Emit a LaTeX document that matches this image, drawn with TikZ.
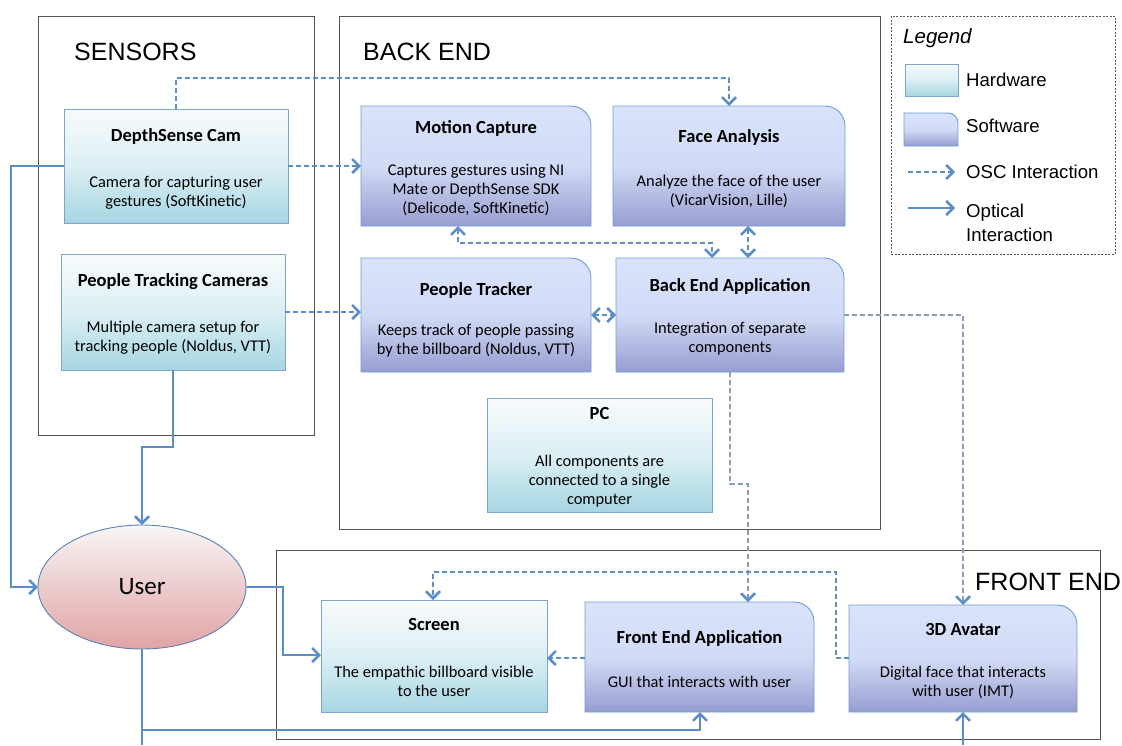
\documentclass[tikz,border=0pt]{standalone}
\usepackage{fontspec}
\setmainfont{Carlito}
\newfontfamily\arialf{Liberation Sans}
\usetikzlibrary{arrows.meta,shapes.geometric}
\definecolor{hwtop}{HTML}{F8FBFC}
\definecolor{hwmid}{HTML}{DCEFF4}
\definecolor{hwbot}{HTML}{A6D6E2}
\definecolor{hwline}{HTML}{7FA6C9}
\definecolor{swtop}{HTML}{D9E3FB}
\definecolor{swmid}{HTML}{D2DBF6}
\definecolor{swbot}{HTML}{979DD0}
\definecolor{swline}{HTML}{6E9DD1}
\definecolor{usertop}{HTML}{F9F6F6}
\definecolor{userbot}{HTML}{E1A3A4}
\definecolor{userline}{HTML}{5B83B3}
\definecolor{conn}{HTML}{5B8EC8}
\definecolor{conngray}{HTML}{8A9DB3}
\definecolor{framec}{HTML}{555555}
\tikzset{
  hwstyle/.style={draw=hwline, line width=0.9pt, top color=hwtop, bottom color=hwbot, middle color=hwmid, inner sep=0pt, outer sep=0pt},
  swshade/.style={draw=swline, line width=0.9pt, top color=swtop, bottom color=swbot, middle color=swmid},
  swnode/.style={inner sep=0pt, outer sep=0pt},
  ttlstyle/.style={font=\fontsize{18.5}{21}\selectfont\bfseries, inner sep=0pt},
  bdystyle/.style={font=\fontsize{16.4}{19}\selectfont, inner sep=0pt, align=center},
  framebox/.style={draw=framec, line width=0.9pt},
  seclabel/.style={font=\arialf\fontsize{25}{28}\selectfont, inner sep=0pt, anchor=west},
  lgtext/.style={font=\arialf\fontsize{18.6}{24}\selectfont, inner sep=0pt, anchor=west, align=left},
  osc/.style={draw=conn, line width=1.3pt, dash pattern=on 5pt off 3pt},
  oscg/.style={draw=conngray, line width=1.3pt, dash pattern=on 5pt off 3pt},
  optic/.style={draw=conn, line width=1.3pt},
  >={Straight Barb[length=7pt,width=14pt,line width=2.5pt]},
  bluetip/.style={-{Straight Barb[length=7pt,width=14pt,line width=2.5pt,color=conn]}}
}
\newcommand\hwbox[5]{%
  \pgfmathsetmacro\bw{#4-#2}\pgfmathsetmacro\bh{#5-#3}%
  \node[hwstyle, minimum width=\bw pt, minimum height=\bh pt] (#1) at ({(#2+#4)/2},{(#3+#5)/2}) {};}
\newcommand\swbox[6]{%
  \pgfmathsetmacro\bw{#4-#2}\pgfmathsetmacro\bh{#5-#3}%
  \shade[swshade] (#2,#5) -- (#2,#3) -- ({#4-#6},#3) .. controls ({#4-0.448*#6},#3) and (#4,{#3+0.448*#6}) .. (#4,{#3+#6}) -- (#4,#5) -- cycle;
  \node[swnode, minimum width=\bw pt, minimum height=\bh pt] (#1) at ({(#2+#4)/2},{(#3+#5)/2}) {};}
\newcommand\ttl[3]{\node[ttlstyle] (#1t) at (#1 |- 0,#2) {#3};}
\newcommand\bdy[3]{\node[bdystyle] (#1b) at (#1 |- 0,#2) {#3};}
\begin{document}
\begin{tikzpicture}[x=1pt,y=-1pt]
\useasboundingbox (0,0) rectangle (1122,745);
% group frames
\draw[framebox] (38,16) rectangle (314,435);
\draw[framebox] (339,16) rectangle (880,529);
\draw[framebox] (276,550) rectangle (1100,739);
\draw[draw=framec, line width=0.7pt, dash pattern=on 2pt off 1.5pt] (891,16) rectangle (1115,254);
\node[seclabel] (lsens) at (74,52) {SENSORS};
\node[seclabel] (lback) at (363,52) {BACK END};
\node[seclabel] (lfront) at (975,582) {FRONT END};
% sensors
\hwbox{ds}{64}{109}{288}{223}
\ttl{ds}{136}{DepthSense Cam}
\bdy{ds}{192.5}{Camera for capturing user\\gestures (SoftKinetic)}
\hwbox{ptc}{61}{254}{285}{370}
\ttl{ptc}{282}{People Tracking Cameras}
\bdy{ptc}{338}{Multiple camera setup for\\tracking people (Noldus, VTT)}
% back end
\swbox{mc}{361}{106}{591}{226}{20}
\ttl{mc}{128}{Motion Capture}
\bdy{mc}{190}{Captures gestures using NI\\Mate or DepthSense SDK\\(Delicode, SoftKinetic)}
\swbox{fa}{613}{106}{845}{226}{20}
\ttl{fa}{137}{Face Analysis}
\bdy{fa}{191}{Analyze the face of the user\\(VicarVision, Lille)}
\swbox{pt}{361}{258}{591}{372}{20}
\ttl{pt}{290}{People Tracker}
\bdy{pt}{341}{Keeps track of people passing\\by the billboard (Noldus, VTT)}
\swbox{bea}{616}{258}{844}{372}{20}
\ttl{bea}{286}{Back End Application}
\bdy{bea}{338.5}{Integration of separate\\components}
\hwbox{pc}{487}{398}{712}{512}
\ttl{pc}{413}{PC}
\bdy{pc}{481.5}{All components are\\connected to a single\\computer}
% user
\node[ellipse, draw=userline, line width=0.9pt, top color=usertop, bottom color=userbot, minimum width=208pt, minimum height=124pt, inner sep=0pt, outer sep=0pt, font=\fontsize{25}{28}\selectfont] (user) at (142,587) {User};
% front end
\hwbox{scr}{321}{600}{547}{712}
\ttl{scr}{624}{Screen}
\bdy{scr}{681.5}{The empathic billboard visible\\to the user}
\swbox{fea}{585}{602}{814}{712}{20}
\ttl{fea}{638}{Front End Application}
\bdy{fea}{682}{GUI that interacts with user}
\swbox{av}{849}{605}{1077}{712}{20}
\ttl{av}{629}{3D Avatar}
\bdy{av}{682.5}{Digital face that interacts\\with user (IMT)}
% legend
\node[font=\arialf\itshape\fontsize{20.5}{24}\selectfont, inner sep=0pt, anchor=west] (lgtitle) at (903,38) {Legend};
\hwbox{lhw}{905}{64}{958}{96}
\node[lgtext] (lhwt) at (966,80) {Hardware};
\swbox{lsw}{904}{113}{958}{146}{10}
\node[lgtext] (lswt) at (966,126) {Software};
\coordinate (losca) at (908,172);
\coordinate (loscb) at (955,172);
\draw[osc,->] (losca) -- (loscb);
\node[lgtext] (losct) at (966,172) {OSC Interaction};
\coordinate (lopta) at (908,208);
\coordinate (loptb) at (955,208);
\draw[optic,->] (lopta) -- (loptb);
\node[lgtext, anchor=north west] (loptt) at (966,204) {Optical\\Interaction};
% connectors
\draw[osc,->] (ds.north) |- (fa.north |- 0,78) -- (fa.north);
\draw[osc,->] (ds.east) -- (ds.east -| mc.west);
\draw[optic,->] (ds.west) -- (ds.west -| 11,0) |- (user.west);
\draw[osc,->] (ptc.east) -- (ptc.east -| pt.west);
\draw[optic,->] (ptc.south) -- (ptc.south |- 0,447) -| (user.north);
\draw[osc,<->] (mc.south -| 458,0) -- (458,243) -| (bea.north -| 712,0);
\draw[osc,<->] (fa.south -| 748,0) -- (bea.north -| 748,0);
\draw[osc,<->] (pt.east) -- (bea.west);
\draw[oscg,bluetip] (bea.east) -| (av.north);
\draw[oscg,bluetip] (bea.south -| 730,0) -- (730,484) -| (fea.north -| 748,0);
\draw[osc,->] (av.west |- 0,658) -- (836,658) |- (433,572) -- (scr.north -| 433,0);
\draw[osc,->] (fea.west |- 0,658) -- (scr.east |- 0,658);
\draw[optic,->] (user.east) -| (283,655) -- (scr.west |- 0,655);
\coordinate (ubot) at (142,745);
\coordinate (ujunc) at (142,730);
\draw[optic] (user.south) -- (ubot);
\draw[optic,->] (ujunc) -| (fea.south -| 700,0);
\coordinate (avbot) at (963,745);
\draw[optic,->] (avbot) -- (av.south -| 963,0);
\end{tikzpicture}
\end{document}
